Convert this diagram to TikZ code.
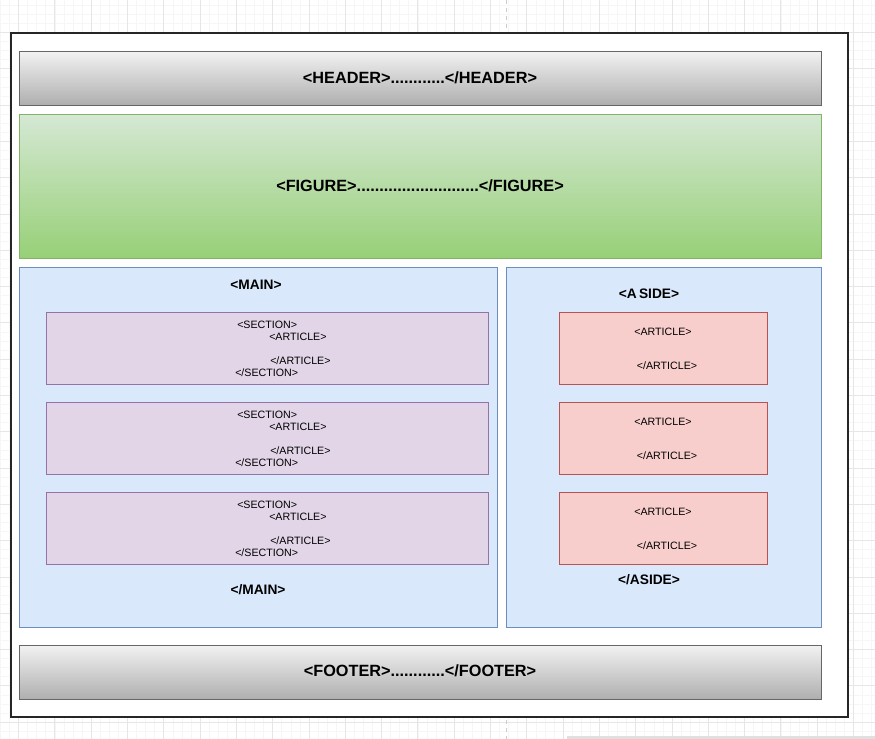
\documentclass[tikz,border=0pt]{standalone}
\usepackage{fontspec}
\setmainfont{Liberation Sans}
\definecolor{gridminor}{HTML}{F6F6F6}
\definecolor{gridmajor}{HTML}{E6E6E6}
\definecolor{bartop}{HTML}{F2F2F2}
\definecolor{barbot}{HTML}{AFAFAF}
\definecolor{barline}{HTML}{666666}
\definecolor{figtop}{HTML}{D5E8D4}
\definecolor{figbot}{HTML}{97D077}
\definecolor{figline}{HTML}{82B366}
\definecolor{bluefill}{HTML}{DAE8FC}
\definecolor{blueline}{HTML}{6C8EBF}
\definecolor{secfill}{HTML}{E1D5E7}
\definecolor{secline}{HTML}{9673A6}
\definecolor{artfill}{HTML}{F8CECC}
\definecolor{artline}{HTML}{B85450}
\tikzset{
  shell/.style={draw=black!85, line width=1pt, fill=white},
  bar/.style={draw=barline, line width=0.75pt, top color=bartop, bottom color=barbot},
  figbox/.style={draw=figline, line width=0.6pt, top color=figtop, bottom color=figbot},
  bluebox/.style={draw=blueline, line width=0.6pt, fill=bluefill},
  secbox/.style={draw=secline, line width=0.6pt, fill=secfill},
  artbox/.style={draw=artline, line width=0.6pt, fill=artfill},
  bigtag/.style={font=\fontsize{12.2pt}{14pt}\selectfont\bfseries, inner sep=0pt},
  midtag/.style={font=\fontsize{10.3pt}{12pt}\selectfont\bfseries, inner sep=0pt},
  smalltag/.style={font=\fontsize{8pt}{9.6pt}\selectfont, inner sep=0pt}
}
\begin{document}
\begin{tikzpicture}[x=0.75pt,y=-0.75pt]
\useasboundingbox (0,0) rectangle (875,739);
\fill[white] (0,0) rectangle (875,739);
\foreach \k in {0,...,97} {
  \draw[gridminor, line width=0.4pt] ({-8.7+9.075*\k},0) -- ({-8.7+9.075*\k},739);
  \draw[gridminor, line width=0.4pt] (0,{5.1+9.075*\k}) -- (875,{5.1+9.075*\k});
}
\foreach \k in {0,...,24} {
  \draw[gridmajor, line width=0.5pt] ({18.5+36.3*\k},0) -- ({18.5+36.3*\k},739);
  \draw[gridmajor, line width=0.5pt] (0,{32.4+36.3*\k}) -- (875,{32.4+36.3*\k});
}
\draw[black!20, dashed, line width=0.7pt] (506,0) -- (506,739);
\fill[black!12] (567,736) rectangle (875,739);

\draw[shell] (11,33) rectangle (848,717);

\draw[bar] (19,51) rectangle (821,105);
\node[bigtag] (header) at (420,78) {<HEADER>............</HEADER>};

\draw[figbox] (19,114) rectangle (821,258);
\node[bigtag] (figure) at (420,186) {<FIGURE>...........................</FIGURE>};

\draw[bluebox] (19,267) rectangle (497,627);
\node[midtag] (mainopen) at (256,285) {<MAIN>};
\node[midtag] (mainclose) at (258,590) {</MAIN>};

\draw[bluebox] (506,267) rectangle (821,627);
\node[midtag] (asideopen) at (649,294) {<A\,SIDE>};
\node[midtag] (asideclose) at (649,580) {</ASIDE>};

\foreach \i/\dy in {1/0,2/90,3/180} {
  \draw[secbox] (46,312+\dy) rectangle (488,384+\dy);
  \node[smalltag, anchor=west] (secopen\i) at (237,325+\dy) {<SECTION>};
  \node[smalltag, anchor=west] (artopen\i) at (269,337+\dy) {<ARTICLE>};
  \node[smalltag, anchor=west] (artclose\i) at (270,361+\dy) {</ARTICLE>};
  \node[smalltag, anchor=west] (secclose\i) at (235,373+\dy) {</SECTION>};
  \draw[artbox] (559,312+\dy) rectangle (767,384+\dy);
  \node[smalltag] (sideopen\i) at (663,332+\dy) {<ARTICLE>};
  \node[smalltag] (sideclose\i) at (667,366+\dy) {</ARTICLE>};
}

\draw[bar] (19,645) rectangle (821,699);
\node[bigtag] (footer) at (420,671) {<FOOTER>............</FOOTER>};
\end{tikzpicture}
\end{document}
